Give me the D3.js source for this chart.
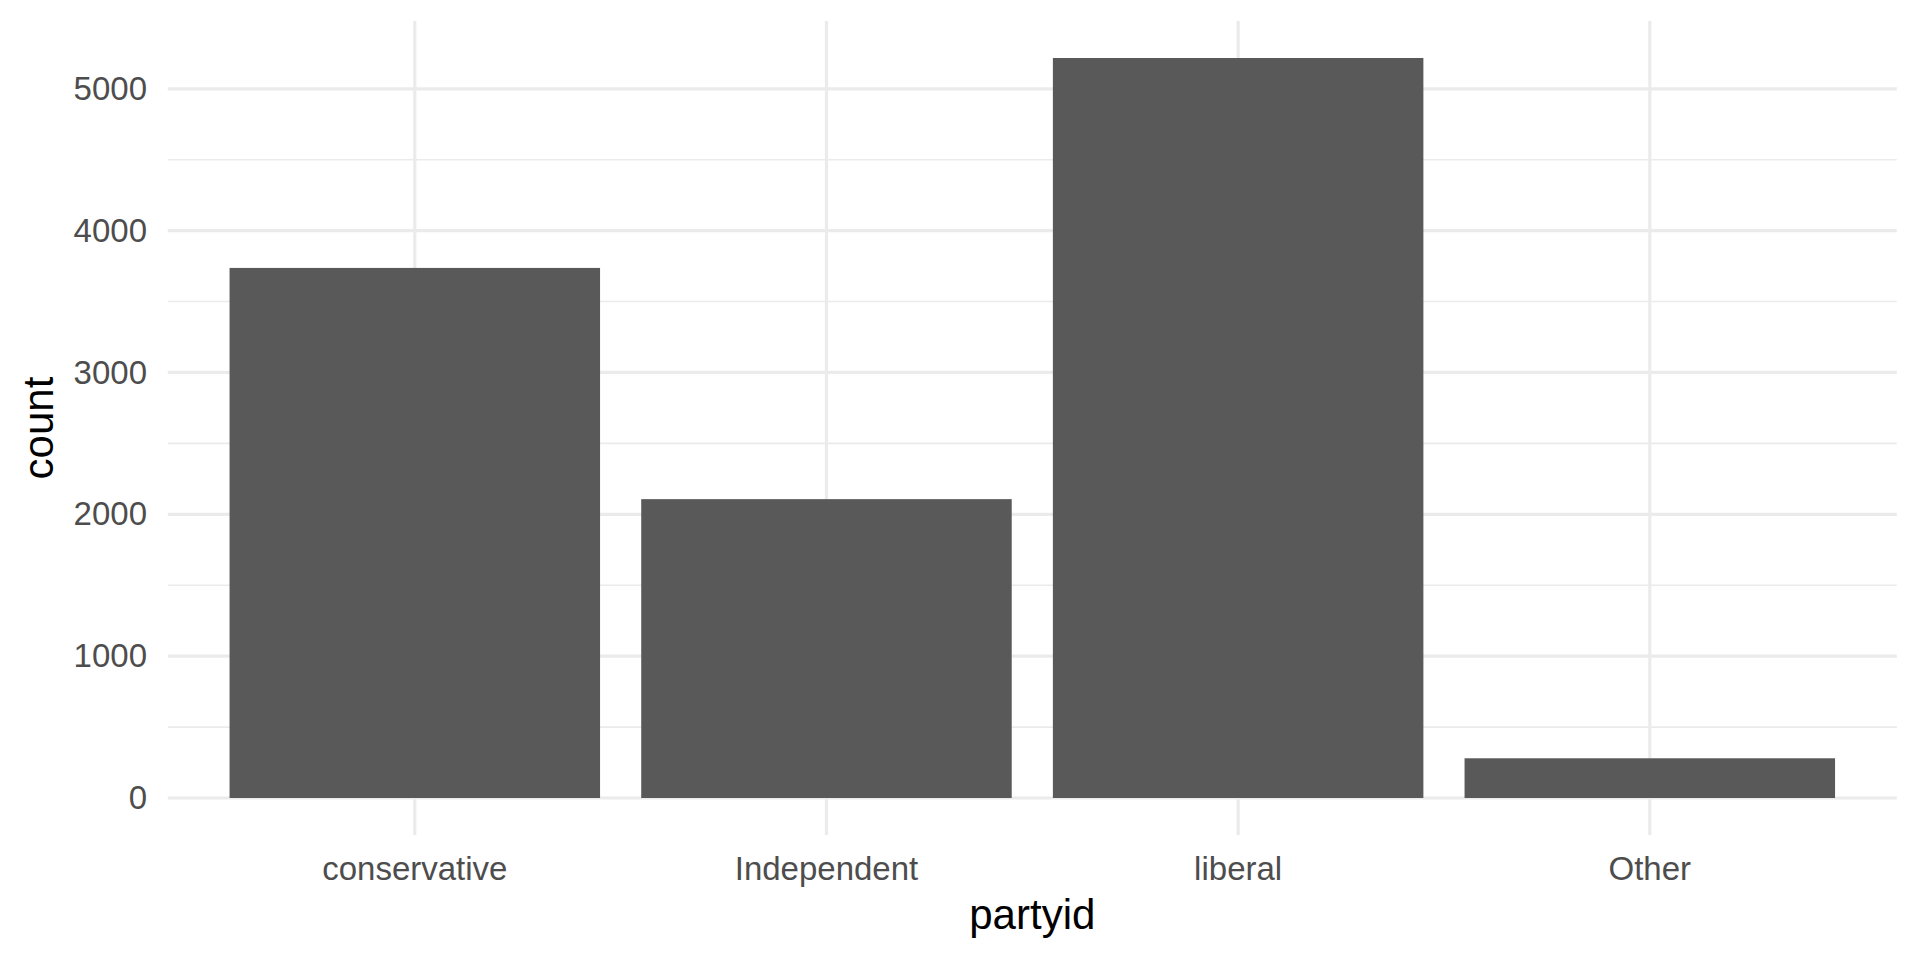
<!DOCTYPE html>
<html>
<head>
<meta charset="utf-8">
<script src="https://cdn.jsdelivr.net/npm/d3@7"></script>
<style>
html,body{margin:0;padding:0;background:#fff;}
svg{display:block;font-family:"Liberation Sans",Arial,sans-serif;}
</style>
</head>
<body>
<svg id="chart" width="1920" height="960"></svg>
<script>
const categories = ["conservative", "Independent", "liberal", "Other"];
const counts = [3737, 2107, 5217, 280];
const yTicks = [0, 1000, 2000, 3000, 4000, 5000];
const yMinorTicks = [500, 1500, 2500, 3500, 4500];
const xTitle = "partyid";
const yTitle = "count";

(function () {
const svg = d3.select("#chart");
const pLeft = 167.8, pRight = 1896.8, pTop = 21, pBottom = 835;

const maxV = d3.max(counts);
const pad = maxV * 0.05;
const y = d3.scaleLinear().domain([-pad, maxV + pad]).range([pBottom, pTop]);
const x = d3.scaleBand().domain(categories).range([pLeft, pRight])
  .paddingInner(0.1).paddingOuter(0.15);
const cx = d => x(d) + x.bandwidth() / 2;

const grid = svg.append("g");
grid.selectAll("line.minor").data(yMinorTicks).enter().append("line")
  .attr("class", "minor")
  .attr("x1", pLeft).attr("x2", pRight)
  .attr("y1", d => y(d)).attr("y2", d => y(d))
  .attr("stroke", "#EBEBEB").attr("stroke-width", 1.6);
grid.selectAll("line.majory").data(yTicks).enter().append("line")
  .attr("class", "majory")
  .attr("x1", pLeft).attr("x2", pRight)
  .attr("y1", d => y(d)).attr("y2", d => y(d))
  .attr("stroke", "#EBEBEB").attr("stroke-width", 3.2);
grid.selectAll("line.majorx").data(categories).enter().append("line")
  .attr("class", "majorx")
  .attr("x1", d => cx(d)).attr("x2", d => cx(d))
  .attr("y1", pTop).attr("y2", pBottom)
  .attr("stroke", "#EBEBEB").attr("stroke-width", 3.2);

svg.append("g").selectAll("rect").data(categories).enter().append("rect")
  .attr("x", d => x(d))
  .attr("width", x.bandwidth())
  .attr("y", (d, i) => y(counts[i]))
  .attr("height", (d, i) => y(0) - y(counts[i]))
  .attr("fill", "#595959");

const yAxis = d3.axisLeft(y).tickValues(yTicks).tickSize(0).tickPadding(0).tickFormat(d3.format("d"));
const gy = svg.append("g").attr("transform", "translate(147,0)").call(yAxis);
gy.select(".domain").remove();
gy.selectAll("text").attr("fill", "#4D4D4D").attr("font-size", 33)
  .attr("font-family", "Liberation Sans, Arial, sans-serif");

const xAxis = d3.axisBottom(x).tickSize(0).tickPadding(0);
const gx = svg.append("g").attr("transform", "translate(0,880)").call(xAxis);
gx.select(".domain").remove();
gx.selectAll("text").attr("fill", "#4D4D4D").attr("font-size", 33).attr("dy", 0)
  .attr("font-family", "Liberation Sans, Arial, sans-serif");

svg.append("text").attr("x", (pLeft + pRight) / 2).attr("y", 929)
  .attr("text-anchor", "middle").attr("font-size", 42).attr("fill", "#000")
  .text(xTitle);
svg.append("text").attr("transform", `translate(53,${(pTop + pBottom) / 2}) rotate(-90)`)
  .attr("text-anchor", "middle").attr("font-size", 42).attr("fill", "#000")
  .text(yTitle);
})();
</script>
</body>
</html>
